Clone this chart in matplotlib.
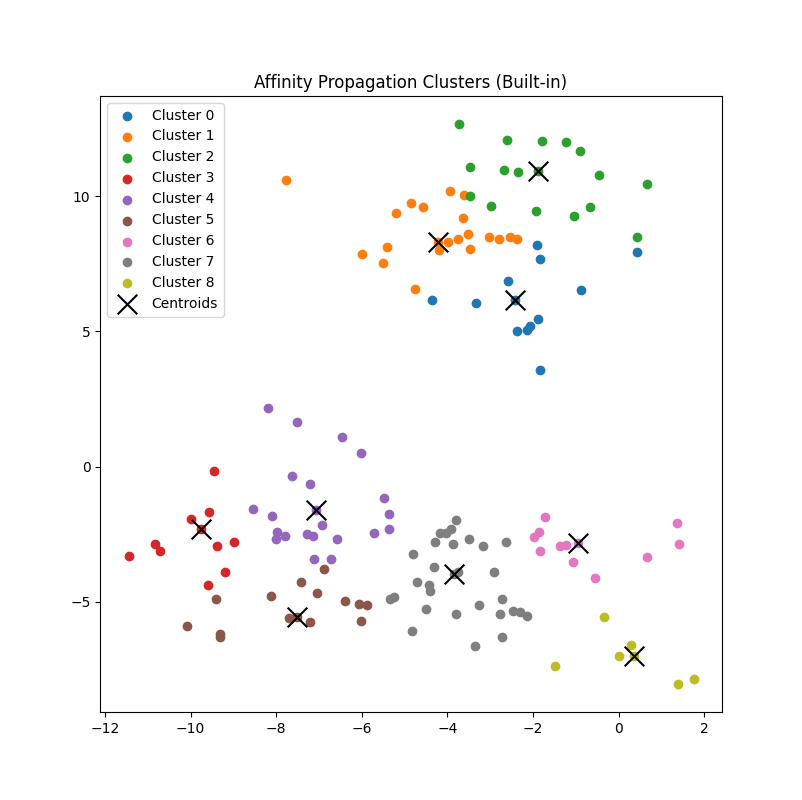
import numpy as np
import matplotlib
matplotlib.use("Agg")
from matplotlib import pyplot as plt

# points per cluster
c0_x = [-4.37, -3.34, -2.59, -2.42, -1.91, -1.84, -1.88, -2.08, -2.15, -2.38, -1.84, -0.89, 0.42]
c0_y = [6.17, 6.06, 6.88, 6.16, 8.21, 7.70, 5.47, 5.20, 5.06, 5.03, 3.56, 6.52, 7.93]

c1_x = [-7.78, -3.93, -3.62, -4.86, -4.58, -5.21, -3.64, -3.53, -3.04, -2.80, -2.54,
        -2.38, -3.98, -3.76, -4.22, -4.19, -3.48, -5.40, -5.99, -5.51, -4.76]
c1_y = [10.62, 10.21, 10.04, 9.74, 9.62, 9.40, 9.21, 8.62, 8.51, 8.41, 8.51,
        8.41, 8.32, 8.41, 8.33, 8.00, 8.07, 8.14, 7.88, 7.54, 6.58]

c2_x = [-3.74, -2.61, -1.80, -1.23, -0.90, -3.47, -2.68, -2.35, -1.89, -0.45, 0.66,
        -3.48, -2.98, -1.94, -0.68, -1.04, 0.42]
c2_y = [12.68, 12.08, 12.04, 12.00, 11.67, 11.07, 10.96, 10.89, 10.93, 10.80, 10.47,
        10.02, 9.64, 9.46, 9.60, 9.27, 8.48]

c3_x = [-9.46, -9.58, -10.00, -9.76, -10.84, -11.45, -10.72, -9.39, -8.99, -9.20, -9.60]
c3_y = [-0.16, -1.68, -1.94, -2.30, -2.85, -3.30, -3.12, -2.94, -2.78, -3.90, -4.37]

c4_x = [-8.18, -7.52, -6.47, -6.01, -7.62, -7.20, -8.53, -8.09, -7.08, -6.92, -7.97,
        -7.80, -8.01, -7.29, -7.15, -5.49, -5.37, -5.37, -5.72, -6.59, -7.12, -6.71]
c4_y = [2.17, 1.66, 1.10, 0.51, -0.34, -0.64, -1.57, -1.83, -1.60, -2.16, -2.42,
        -2.57, -2.68, -2.48, -2.57, -1.16, -1.75, -2.31, -2.46, -2.68, -3.42, -3.42]

c5_x = [-9.41, -10.09, -9.32, -9.32, -8.13, -7.43, -6.89, -7.05, -7.69, -7.52, -7.22,
        -6.40, -6.07, -5.89, -6.03]
c5_y = [-4.90, -5.90, -6.19, -6.31, -4.79, -4.27, -3.79, -4.68, -5.60, -5.57, -5.75,
        -4.97, -5.09, -5.12, -5.72]

c6_x = [-1.73, -1.87, -1.98, -1.84, -1.38, -1.24, -0.96, -1.07, -0.56, 0.66, 1.36, 1.40]
c6_y = [-1.86, -2.42, -2.60, -3.12, -2.94, -2.90, -2.83, -3.53, -4.12, -3.34, -2.09, -2.86]

c7_x = [-3.81, -3.92, -4.03, -4.18, -4.30, -3.88, -3.50, -3.18, -2.64, -4.81, -4.32,
        -3.84, -3.76, -2.92, -4.72, -4.44, -4.40, -5.33, -5.25, -4.51, -3.81, -3.27,
        -2.73, -2.78, -2.47, -2.31, -2.15, -4.83, -3.36, -2.73]
c7_y = [-1.97, -2.31, -2.46, -2.46, -2.79, -2.88, -2.67, -2.94, -2.81, -3.23, -3.72,
        -3.97, -3.90, -3.90, -4.27, -4.37, -4.62, -4.90, -4.83, -5.27, -5.46, -5.12,
        -4.90, -5.46, -5.33, -5.38, -5.53, -6.09, -6.64, -6.31]

c8_x = [-0.35, 0.28, 0.00, 0.37, -1.49, 1.38, 1.75]
c8_y = [-5.57, -6.59, -7.01, -7.01, -7.38, -8.05, -7.86]

cent_x = [-2.42, -4.22, -1.89, -9.76, -7.08, -7.52, -3.84, -0.96, 0.37]
cent_y = [6.16, 8.33, 10.93, -2.30, -1.60, -5.57, -3.97, -2.83, -7.01]

clusters_x = [c0_x, c1_x, c2_x, c3_x, c4_x, c5_x, c6_x, c7_x, c8_x]
clusters_y = [c0_y, c1_y, c2_y, c3_y, c4_y, c5_y, c6_y, c7_y, c8_y]

plt.figure(figsize=(8.02, 8))
for k in range(len(clusters_x)):
    plt.scatter(clusters_x[k], clusters_y[k], label='Cluster %d' % k)
plt.scatter(cent_x, cent_y, c='black', marker='x', s=200, label='Centroids')
plt.title('Affinity Propagation Clusters (Built-in)')
plt.legend(loc='upper left')
plt.savefig('out.png')
